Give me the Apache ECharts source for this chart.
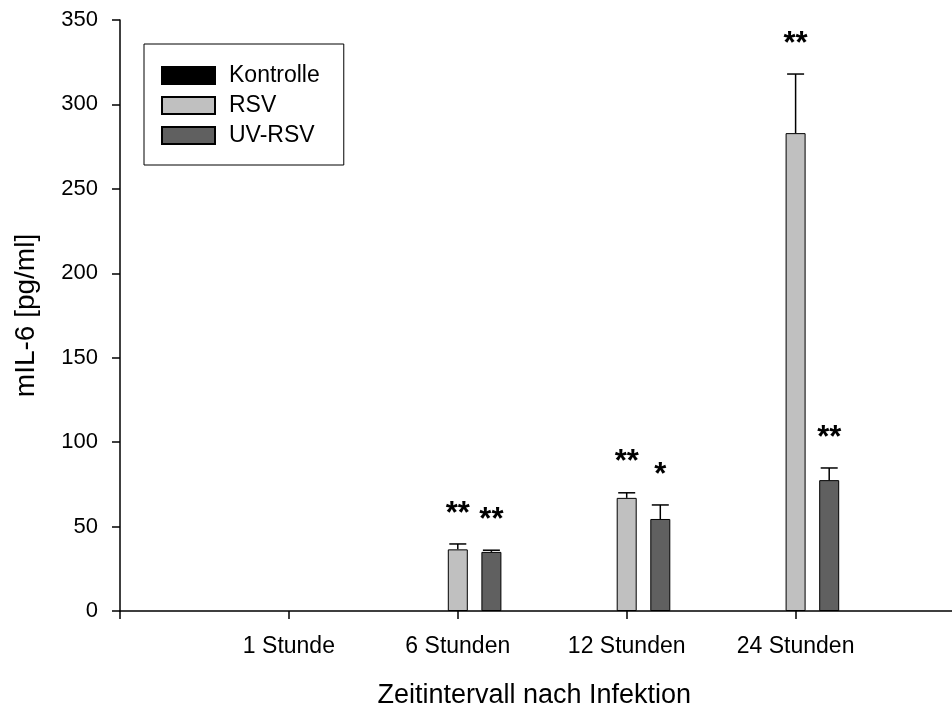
<!DOCTYPE html>
<html>
<head>
<meta charset="utf-8">
<script src="https://cdn.jsdelivr.net/npm/echarts@6/dist/echarts.min.js"></script>
<style>
  html, body { margin: 0; padding: 0; background: #fff; }
  #chart { width: 952px; height: 709px; }
</style>
</head>
<body>
<div id="chart"></div>
<script>
// Time points after infection
const categories = ['1 Stunde', '6 Stunden', '12 Stunden', '24 Stunden'];

// mIL-6 concentrations [pg/ml] (means) and upper error (SEM)
const kontrolle = [0, 0, 0, 0];
const rsv = [0, 36.5, 67, 283];
const rsvErr = [0, 3.2, 3, 35];
const uvRsv = [0, 35, 54.5, 77.5];
const uvRsvErr = [0, 1, 8.3, 7.2];

// Significance markers
const rsvSig = ['', '**', '**', '**'];
const uvRsvSig = ['', '**', '*', '**'];

// Y axis range
const yMin = 0, yMax = 350, yStep = 50;

const FONT = 'Liberation Sans, Arial, Helvetica, sans-serif';
const BAR_W = 20;
const BAR_GAP = 0.68;
const CAP = 17;

// Category axis with an empty slot on each side so the groups sit on ticks
const axisCats = [''].concat(categories, ['']);
// Zero-height bars get no outline so they leave no mark on the baseline
const pad = arr => [null].concat(
  arr.map(v => (v === 0 ? { value: 0, itemStyle: { borderWidth: 0, opacity: 0 } } : v)),
  [null]
);

function errorSeries(name, values, errs, sigs, slot) {
  const shift = slot * BAR_W * (1 + BAR_GAP);
  return {
    type: 'custom',
    name: name + ' SEM',
    z: 5,
    data: values.map((v, k) => [k + 1, v, errs[k]]),
    renderItem: function (params, api) {
      const i = api.value(0), v = api.value(1), e = api.value(2);
      const sig = sigs[params.dataIndex];
      const base = api.coord([i, v]);
      const top = api.coord([i, v + e]);
      const x = base[0] + shift;
      const children = [];
      if (e > 0) {
        children.push({
          type: 'line',
          shape: { x1: x, y1: base[1], x2: x, y2: top[1] },
          style: { stroke: '#000', lineWidth: 1.5 }
        });
        children.push({
          type: 'line',
          shape: { x1: x - CAP / 2, y1: top[1], x2: x + CAP / 2, y2: top[1] },
          style: { stroke: '#000', lineWidth: 1.5 }
        });
      }
      if (sig) {
        children.push({
          type: 'text',
          x: x,
          y: top[1] - 30,
          style: {
            text: sig,
            fill: '#000',
            font: 'bold 31px ' + FONT,
            align: 'center',
            verticalAlign: 'middle'
          }
        });
      }
      return { type: 'group', children: children };
    }
  };
}

const chart = echarts.init(document.getElementById('chart'), null, { renderer: 'canvas' });

chart.setOption({
  animation: false,
  backgroundColor: '#fff',
  textStyle: { fontFamily: FONT },
  grid: { left: 120, top: 20, width: 844.5, height: 591, containLabel: false, outerBoundsMode: 'none' },
  legend: {
    left: 144,
    top: 44,
    orient: 'vertical',
    backgroundColor: '#fff',
    borderColor: '#000',
    borderWidth: 1,
    borderRadius: 0,
    padding: [20, 24, 18, 17],
    icon: 'rect',
    itemWidth: 53,
    itemHeight: 17,
    itemGap: 7,
    textStyle: { fontSize: 23, color: '#000', fontFamily: FONT, padding: [0, 0, 0, 9] },
    data: ['Kontrolle', 'RSV', 'UV-RSV']
  },
  xAxis: {
    type: 'category',
    data: axisCats,
    boundaryGap: false,
    z: 3,
    name: 'Zeitintervall nach Infektion',
    nameLocation: 'middle',
    nameGap: 71,
    nameTextStyle: { fontSize: 27, color: '#000', fontFamily: FONT, verticalAlign: 'top', padding: [0, 16, 0, 0] },
    axisLine: { show: true, lineStyle: { color: '#000', width: 1.5 } },
    axisTick: { show: true, inside: false, length: 8, interval: 0, lineStyle: { color: '#000', width: 1.5 } },
    axisLabel: { interval: 0, margin: 24, fontSize: 23, color: '#000', fontFamily: FONT },
    splitLine: { show: false }
  },
  yAxis: {
    type: 'value',
    min: yMin,
    max: yMax,
    interval: yStep,
    z: 3,
    name: 'mIL-6 [pg/ml]',
    nameLocation: 'middle',
    nameGap: 80,
    nameTextStyle: { fontSize: 28, color: '#000', fontFamily: FONT },
    axisLine: { show: true, lineStyle: { color: '#000', width: 1.5 } },
    axisTick: { show: true, inside: false, length: 8, lineStyle: { color: '#000', width: 1.5 } },
    axisLabel: { margin: 22, fontSize: 22, color: '#000', fontFamily: FONT },
    splitLine: { show: false }
  },
  series: [
    {
      name: 'Kontrolle', type: 'bar', data: pad(kontrolle), z: 2,
      barWidth: BAR_W, barGap: (BAR_GAP * 100) + '%',
      itemStyle: { color: '#000000', borderColor: '#000', borderWidth: 1 }
    },
    {
      name: 'RSV', type: 'bar', data: pad(rsv), z: 2,
      barWidth: BAR_W, barGap: (BAR_GAP * 100) + '%',
      itemStyle: { color: '#c0c0c0', borderColor: '#000', borderWidth: 1 }
    },
    {
      name: 'UV-RSV', type: 'bar', data: pad(uvRsv), z: 2,
      barWidth: BAR_W, barGap: (BAR_GAP * 100) + '%',
      itemStyle: { color: '#606060', borderColor: '#000', borderWidth: 1 }
    },
    errorSeries('RSV', rsv, rsvErr, rsvSig, 0),
    errorSeries('UV-RSV', uvRsv, uvRsvErr, uvRsvSig, 1)
  ]
});
</script>
</body>
</html>
